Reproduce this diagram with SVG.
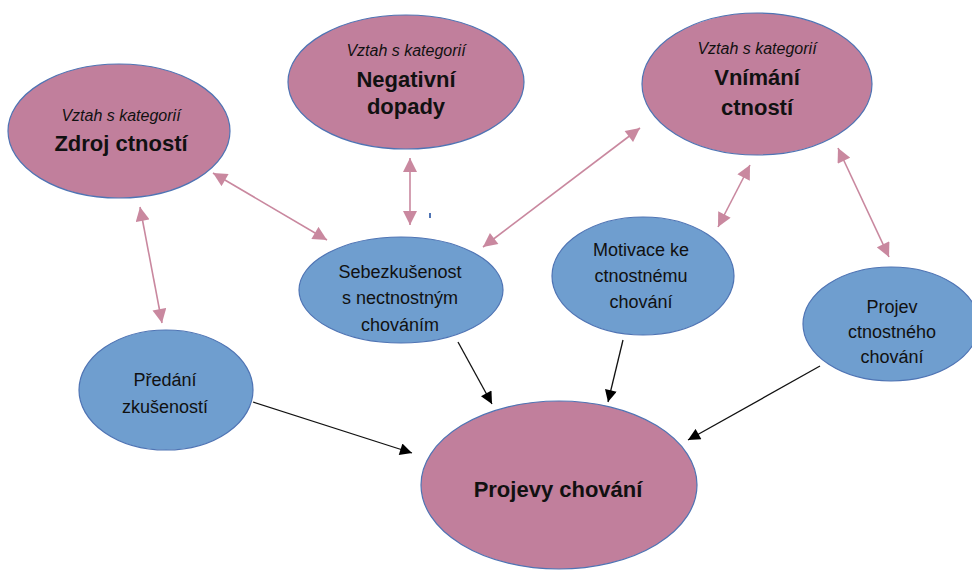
<svg xmlns="http://www.w3.org/2000/svg" width="972" height="570" viewBox="0 0 972 570">
<defs>
<style>
.pink{fill:#c17f9c;stroke:#4f74b4;stroke-width:1.2}
.blue{fill:#6f9ecf;stroke:#4f74b4;stroke-width:1.2}
text{font-family:"Liberation Sans",Arial,sans-serif;fill:#111;text-anchor:middle}
.it{font-style:italic;font-size:16px}
.b{font-weight:bold;font-size:22px}
.n{font-size:18px}
.pl{stroke:#c9889f;stroke-width:1.6;fill:none;marker-start:url(#ph);marker-end:url(#ph)}
.bl{stroke:#111;stroke-width:1.3;fill:none;marker-end:url(#bh)}
</style>
<marker id="ph" viewBox="0 0 10 10" refX="10" refY="5" markerUnits="userSpaceOnUse" markerWidth="15" markerHeight="14" orient="auto-start-reverse"><path d="M0,0 L10,5 L0,10 z" fill="#c9889f"/></marker>
<marker id="bh" viewBox="0 0 10 10" refX="10" refY="5" markerUnits="userSpaceOnUse" markerWidth="14" markerHeight="12" orient="auto"><path d="M0,0 L10,5 L0,10 z" fill="#000"/></marker>
</defs>
<rect width="972" height="570" fill="#fff"/>
<g id="n-zdroj"><ellipse class="pink" cx="119" cy="131" rx="111" ry="67"/><text class="it" x="121" y="121">Vztah s kategorií</text><text class="b" x="121" y="151">Zdroj ctností</text></g>
<g id="n-negativni"><ellipse class="pink" cx="406" cy="82" rx="118" ry="67"/><text class="it" x="406" y="56">Vztah s kategorií</text><text class="b" x="406" y="87">Negativní</text><text class="b" x="406" y="114">dopady</text></g>
<g id="n-vnimani"><ellipse class="pink" cx="757" cy="84" rx="115" ry="71"/><text class="it" x="757" y="54">Vztah s kategorií</text><text class="b" x="757" y="85">Vnímání</text><text class="b" x="757" y="115">ctností</text></g>
<g id="n-sebe"><ellipse class="blue" cx="401" cy="290" rx="102" ry="53"/><text class="n" x="400" y="278">Sebezkušenost</text><text class="n" x="400" y="304">s nectnostným</text><text class="n" x="400" y="331">chováním</text></g>
<g id="n-motivace"><ellipse class="blue" cx="643" cy="276" rx="91" ry="59"/><text class="n" x="641" y="256">Motivace ke</text><text class="n" x="641" y="282">ctnostnému</text><text class="n" x="641" y="308">chování</text></g>
<g id="n-projev"><ellipse class="blue" cx="891" cy="324" rx="88" ry="57"/><text class="n" x="892" y="313">Projev</text><text class="n" x="892" y="338">ctnostného</text><text class="n" x="892" y="363">chování</text></g>
<g id="n-predani"><ellipse class="blue" cx="166" cy="390" rx="87" ry="60"/><text class="n" x="165" y="386">Předání</text><text class="n" x="165" y="413">zkušeností</text></g>
<g id="n-projevy"><ellipse class="pink" cx="559" cy="485" rx="138" ry="84"/><text class="b" x="558" y="497">Projevy chování</text></g>
<g id="connectors">
<line class="pl" x1="213" y1="173" x2="327" y2="240"/>
<line class="pl" x1="140" y1="207" x2="162" y2="323"/>
<line class="pl" x1="410" y1="158" x2="410" y2="225"/>
<line class="pl" x1="640" y1="128" x2="483" y2="247"/>
<line class="pl" x1="750" y1="165" x2="718" y2="227"/>
<line class="pl" x1="838" y1="148" x2="889" y2="257"/>
<line class="bl" x1="458" y1="342" x2="492" y2="404"/>
<line class="bl" x1="623" y1="340" x2="608" y2="402"/>
<line class="bl" x1="820" y1="366" x2="688" y2="440"/>
<line class="bl" x1="253" y1="402" x2="412" y2="453"/>
</g>
<rect x="429" y="213" width="2" height="5" fill="#4f74b4"/>
</svg>
